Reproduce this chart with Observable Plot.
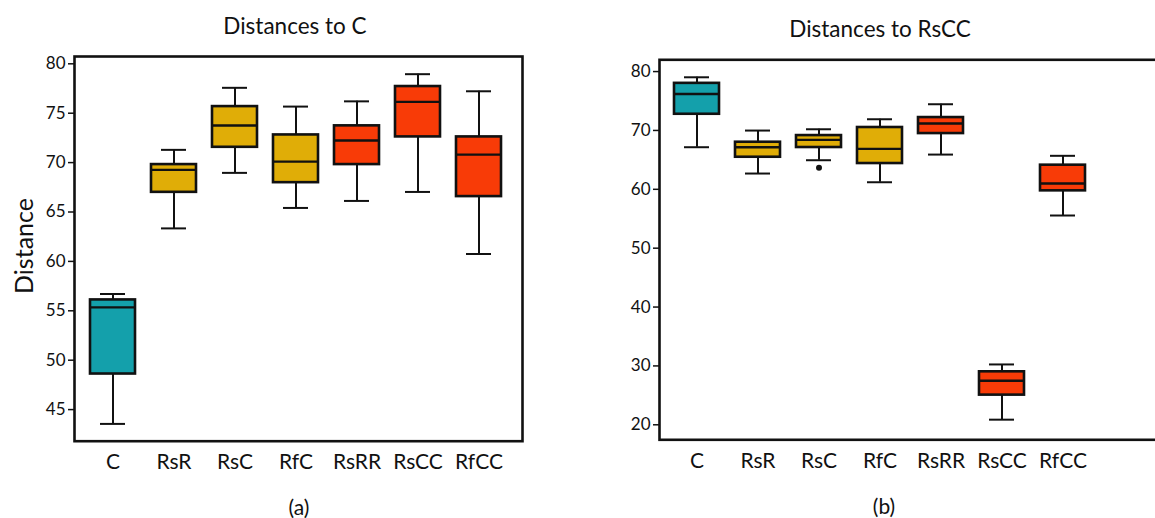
<!DOCTYPE html>
<html>
<head>
<meta charset="utf-8">
<script src="https://cdn.jsdelivr.net/npm/d3@7"></script>
<script src="https://cdn.jsdelivr.net/npm/@observablehq/plot@0.6"></script>
<style>
  html, body { margin: 0; padding: 0; background: #fff; overflow: hidden; }
  #page { position: relative; width: 1155px; height: 518px; overflow: hidden; font-family: Lato, "Open Sans", sans-serif; color: #111; }
  .panel { position: absolute; top: 0; height: 518px; overflow: hidden; }
  .panel svg { max-width: none !important; display: block; }
  .title { position: absolute; font-size: 22.5px; transform: translate(-50%, -50%); white-space: nowrap; }
  .cap { position: absolute; font-size: 21px; transform: translate(-50%, -50%); white-space: nowrap; }
  .ylab { position: absolute; font-size: 25px; transform: translate(-50%, -50%) rotate(-90deg); white-space: nowrap; }
</style>
</head>
<body>
<div id="page">
  <div class="panel" id="pa" style="left:0;width:580px;"></div>
  <div class="panel" id="pb" style="left:580px;width:575px;"></div>
  <div class="title" style="left:295px;top:25px;">Distances to C</div>
  <div class="title" style="left:880px;top:28px;">Distances to RsCC</div>
  <div class="ylab" style="left:23px;top:246px;">Distance</div>
  <div class="cap" style="left:299px;top:506px;">(a)</div>
  <div class="cap" style="left:884px;top:505px;">(b)</div>
</div>
<script>
// ---- data ----
const categories = ["C", "RsR", "RsC", "RfC", "RsRR", "RsCC", "RfCC"];
const groups = ["ctrl", "rs", "rs", "rs", "rr", "rr", "rr"];
const groupNames = ["ctrl", "rs", "rr"];
const groupColors = ["#14a0ab", "#e0ad07", "#f83b07"];

// (a) Distances to C
const aLow = [43.55, 63.34, 68.96, 65.41, 66.12, 67.03, 60.75];
const aQ1  = [48.6, 66.99, 71.55, 67.97, 69.8, 72.6, 66.56];
const aMed = [55.35, 69.26, 73.75, 70.1, 72.23, 76.15, 70.81];
const aQ3  = [56.1, 69.8, 75.67, 72.8, 73.72, 77.7, 72.6];
const aHigh = [56.7, 71.29, 77.57, 75.67, 76.2, 78.95, 77.22];
const aTicks = [45, 50, 55, 60, 65, 70, 75, 80];

// (b) Distances to RsCC
const bLow = [67.15, 62.68, 64.94, 61.2, 65.9, 20.87, 55.55];
const bQ1  = [72.75, 65.45, 67.1, 64.38, 69.47, 25.04, 59.74];
const bMed = [76.2, 67.15, 68.4, 66.87, 71.17, 27.49, 60.98];
const bQ3  = [78.0, 68.0, 69.13, 70.5, 72.19, 29.0, 64.1];
const bHigh = [79.03, 69.98, 70.2, 71.9, 74.45, 30.25, 65.69];
const bOutCat = ["RsC"];
const bOutVal = [63.65];
const bTicks = [20, 30, 40, 50, 60, 70, 80];

function rows(lo, q1, med, q3, hi) {
  return categories.map((c, i) => ({cat: c, group: groups[i], lo: lo[i], q1: q1[i], med: med[i], q3: q3[i], hi: hi[i]}));
}

const ink = "#111";
function boxPlot({data, outliers, yDomain, yTicks, width, marginLeft, marginRight, marginTop, marginBottom, xRange}) {
  return Plot.plot({
    width, height: 518,
    marginLeft, marginRight, marginTop, marginBottom,
    style: {fontFamily: "Lato, 'Open Sans', sans-serif", background: "transparent", color: ink, maxWidth: "none"},
    x: {type: "band", domain: categories, range: xRange, paddingInner: 0.26, paddingOuter: 0.222, axis: null},
    y: {domain: yDomain, axis: null},
    color: {domain: groupNames, range: groupColors},
    marks: [
      Plot.ruleX(data, {x: "cat", y1: "lo", y2: "hi", stroke: ink, strokeWidth: 2}),
      Plot.barY(data, {x: "cat", y1: "q1", y2: "q3", fill: "group", stroke: ink, strokeWidth: 2.6}),
      Plot.tickY(data, {x: "cat", y: "med", stroke: ink, strokeWidth: 2.4}),
      Plot.tickY(data, {x: "cat", y: "hi", stroke: ink, strokeWidth: 2, insetLeft: 10, insetRight: 10}),
      Plot.tickY(data, {x: "cat", y: "lo", stroke: ink, strokeWidth: 2, insetLeft: 10, insetRight: 10}),
      Plot.dot(outliers, {x: "cat", y: "v", r: 3, fill: ink}),
      Plot.axisY({ticks: yTicks, tickSize: 6, tickPadding: 3, fontSize: 17, stroke: ink, strokeWidth: 1.5, label: null}),
      Plot.axisX({tickSize: 0, tickPadding: 13, fontSize: 21, label: null}),
      Plot.frame({stroke: ink, strokeWidth: 2.6})
    ]
  });
}

const aRows = rows(aLow, aQ1, aMed, aQ3, aHigh);
const bRows = rows(bLow, bQ1, bMed, bQ3, bHigh);
const bOut = bOutCat.map((c, i) => ({cat: c, v: bOutVal[i]}));

document.getElementById("pa").append(boxPlot({
  data: aRows, outliers: [], yDomain: [41.8, 80.74], yTicks: aTicks,
  width: 580, marginLeft: 74, marginRight: 58, marginTop: 56, marginBottom: 77.3,
  xRange: [74, 516.8]
}));
document.getElementById("pb").append(boxPlot({
  data: bRows, outliers: bOut, yDomain: [17.45, 82], yTicks: bTicks,
  width: 760, marginLeft: 79, marginRight: 0, marginTop: 59.3, marginBottom: 78.7,
  xRange: [78.2, 521]
}));
</script>
</body>
</html>
